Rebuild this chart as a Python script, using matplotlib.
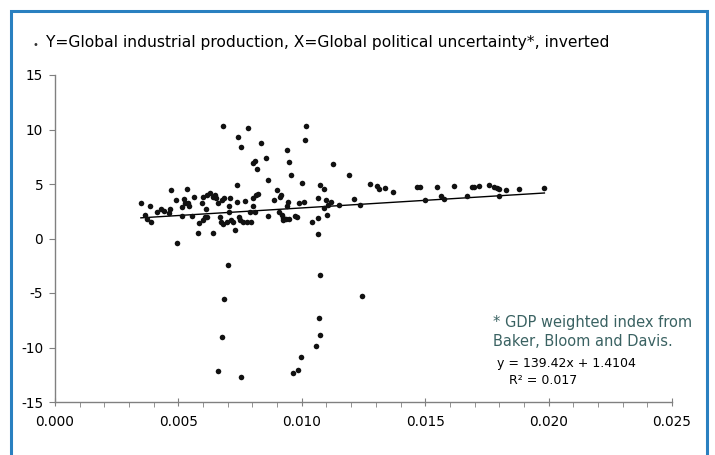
import matplotlib
matplotlib.use("Agg")
import matplotlib.pyplot as plt
import numpy as np
from matplotlib.patches import Rectangle
from matplotlib.ticker import MultipleLocator, FormatStrFormatter

plt.rcParams['font.family'] = ['DejaVu Sans']
plt.rcParams['axes.unicode_minus'] = False

# X = global political uncertainty (inverted), Y = global industrial production
x_vals = [0.00348, 0.00365, 0.00374, 0.00389, 0.00385, 0.00412, 0.00430, 0.00443, 0.00463, 0.00467,
          0.00471, 0.00490, 0.00496, 0.00515, 0.00515, 0.00521, 0.00528, 0.00534, 0.00539, 0.00542,
          0.00555, 0.00564, 0.00581, 0.00585, 0.00596, 0.00598, 0.00601, 0.00607, 0.00612, 0.00615,
          0.00617, 0.00628, 0.00639, 0.00641, 0.00648, 0.00652, 0.00662, 0.00669, 0.00671, 0.00675,
          0.00682, 0.00682, 0.00686, 0.00696, 0.00701, 0.00704, 0.00706, 0.00709, 0.00713, 0.00722,
          0.00728, 0.00739, 0.00739, 0.00742, 0.00747, 0.00750, 0.00754, 0.00763, 0.00769, 0.00777,
          0.00783, 0.00790, 0.00795, 0.00801, 0.00804, 0.00804, 0.00810, 0.00810, 0.00814, 0.00819,
          0.00824, 0.00836, 0.00855, 0.00863, 0.00864,
          0.00887, 0.00898, 0.00908, 0.00912, 0.00916, 0.00919, 0.00923, 0.00925, 0.00936, 0.00941,
          0.00941, 0.00945, 0.00949, 0.00955, 0.00949, 0.00972, 0.00979, 0.00989, 0.01002, 0.01009,
          0.01013, 0.01016, 0.01040, 0.01064, 0.01064, 0.01064, 0.01074, 0.01074, 0.01090, 0.01090,
          0.01098, 0.01103, 0.01107, 0.01117, 0.01128, 0.01152, 0.01193, 0.01212, 0.01237, 0.01276,
          0.01304, 0.01314, 0.01337, 0.01371,
          0.01466, 0.01479, 0.01500, 0.01549, 0.01564, 0.01577, 0.01618, 0.01669, 0.01691, 0.01698,
          0.01719, 0.01759, 0.01779, 0.01790, 0.01799, 0.01798, 0.01827, 0.01881, 0.01983,
          0.00686, 0.00678, 0.00662, 0.00755, 0.01245, 0.01070, 0.01075, 0.01056, 0.00998, 0.00986,
          0.00964]
y_vals = [3.23, 2.16, 1.76, 1.49, 2.98, 2.46, 2.68, 2.55, 2.31, 2.71,
          4.45, 3.53, -0.44, 2.06, 2.92, 3.62, 3.23, 4.51, 3.28, 2.98,
          2.06, 3.78, 0.48, 1.45, 3.23, 3.78, 1.70, 1.94, 2.68, 3.99,
          2.00, 4.15, 0.48, 3.83, 3.99, 3.69, 3.28, 2.00, 1.54, 3.53,
          10.32, 1.33, 3.69, 1.54, -2.43, 2.98, 2.43, 3.69, 1.70, 1.54,
          0.78, 4.88, 3.38, 9.28, 2.00, 1.70, 8.37, 1.54, 3.47, 1.54,
          10.17, 2.46, 1.54, 3.69, 2.98, 6.95, 7.08, 2.46, 3.99, 6.35,
          4.05, 8.73, 7.41, 2.06, 5.37,
          3.53, 4.45, 2.46, 3.83, 3.99, 2.16, 1.85, 1.70, 1.76, 8.12,
          2.98, 3.38, 7.02, 5.80, 1.76, 2.06, 1.94, 3.28, 5.12, 3.38,
          9.00, 10.32, 1.49, 3.69, 1.85, 0.39, 4.88, -3.38, 4.51, 2.77,
          3.53, 2.16, 3.07, 3.38, 6.81, 3.10, 5.80, 3.60, 3.07, 4.97,
          4.82, 4.54, 4.61, 4.24,
          4.70, 4.70, 3.53, 4.70, 3.90, 3.60, 4.82, 3.90, 4.70, 4.75,
          4.82, 4.91, 4.72, 4.61, 4.51, 3.87, 4.45, 4.51, 4.61,
          -5.58, -9.06, -12.18, -12.68, -5.30, -7.32, -8.88, -9.89, -10.90, -12.09,
          -12.37]

slope = 139.42
intercept = 1.4104
r_squared = 0.017

title = "Y=Global industrial production, X=Global political uncertainty*, inverted"
note_lines = ["* GDP weighted index from", "Baker, Bloom and Davis."]

x = np.array(x_vals)
y = np.array(y_vals)

fig = plt.figure(figsize=(7.15, 4.55), dpi=100)
ax = fig.add_axes([55/715, 1 - 402/455, 617/715, 327/455])

ax.scatter(x, y, s=16, color='#111111', zorder=3, linewidths=0)
xl = np.array([x.min(), x.max()])
ax.plot(xl, slope * xl + intercept, color='black', lw=1.0, zorder=2)

ax.set_xlim(0, 0.025)
ax.set_ylim(-15, 15)
ax.xaxis.set_major_locator(MultipleLocator(0.005))
ax.xaxis.set_minor_locator(MultipleLocator(0.001))
ax.xaxis.set_major_formatter(FormatStrFormatter('%.3f'))
ax.yaxis.set_major_locator(MultipleLocator(5))

for s in ['top', 'right']:
    ax.spines[s].set_visible(False)
for s in ['left', 'bottom']:
    ax.spines[s].set_color('#808080')
    ax.spines[s].set_linewidth(1.0)
ax.tick_params(axis='x', which='major', direction='inout', length=6, color='#808080',
               labelsize=9.8, pad=6)
ax.tick_params(axis='x', which='minor', direction='out', length=3.5, color='#808080')
ax.tick_params(axis='y', which='major', direction='out', length=4.5, color='#808080',
               labelsize=9.8, pad=4)

# header line with bullet
fig.text(32/715, 1 - 45/455, "•", fontsize=7, color='#333333', va='center')
fig.text(46/715, 1 - 42/455, title, fontsize=11.2, color='black', va='center')

# note and trendline equation
fig.text(493/715, 1 - 322/455, note_lines[0], fontsize=10.5, color='#3a6262', va='center')
fig.text(493/715, 1 - 341/455, note_lines[1], fontsize=10.5, color='#3a6262', va='center')
fig.text(497/715, 1 - 363/455, "y = %.2fx + %.4f" % (slope, intercept), fontsize=9.0,
         color='black', va='center')
fig.text(509/715, 1 - 380/455, "R² = %.3f" % r_squared, fontsize=9.0, color='black', va='center')

# blue frame around the panel (runs off the bottom edge)
fig.patches.append(Rectangle((11/715, -0.05), (707 - 11)/715, 1 - 11/455 + 0.05,
                             transform=fig.transFigure, fill=False,
                             edgecolor='#2a80c0', linewidth=2.2))

fig.savefig("out.png", dpi=100)
